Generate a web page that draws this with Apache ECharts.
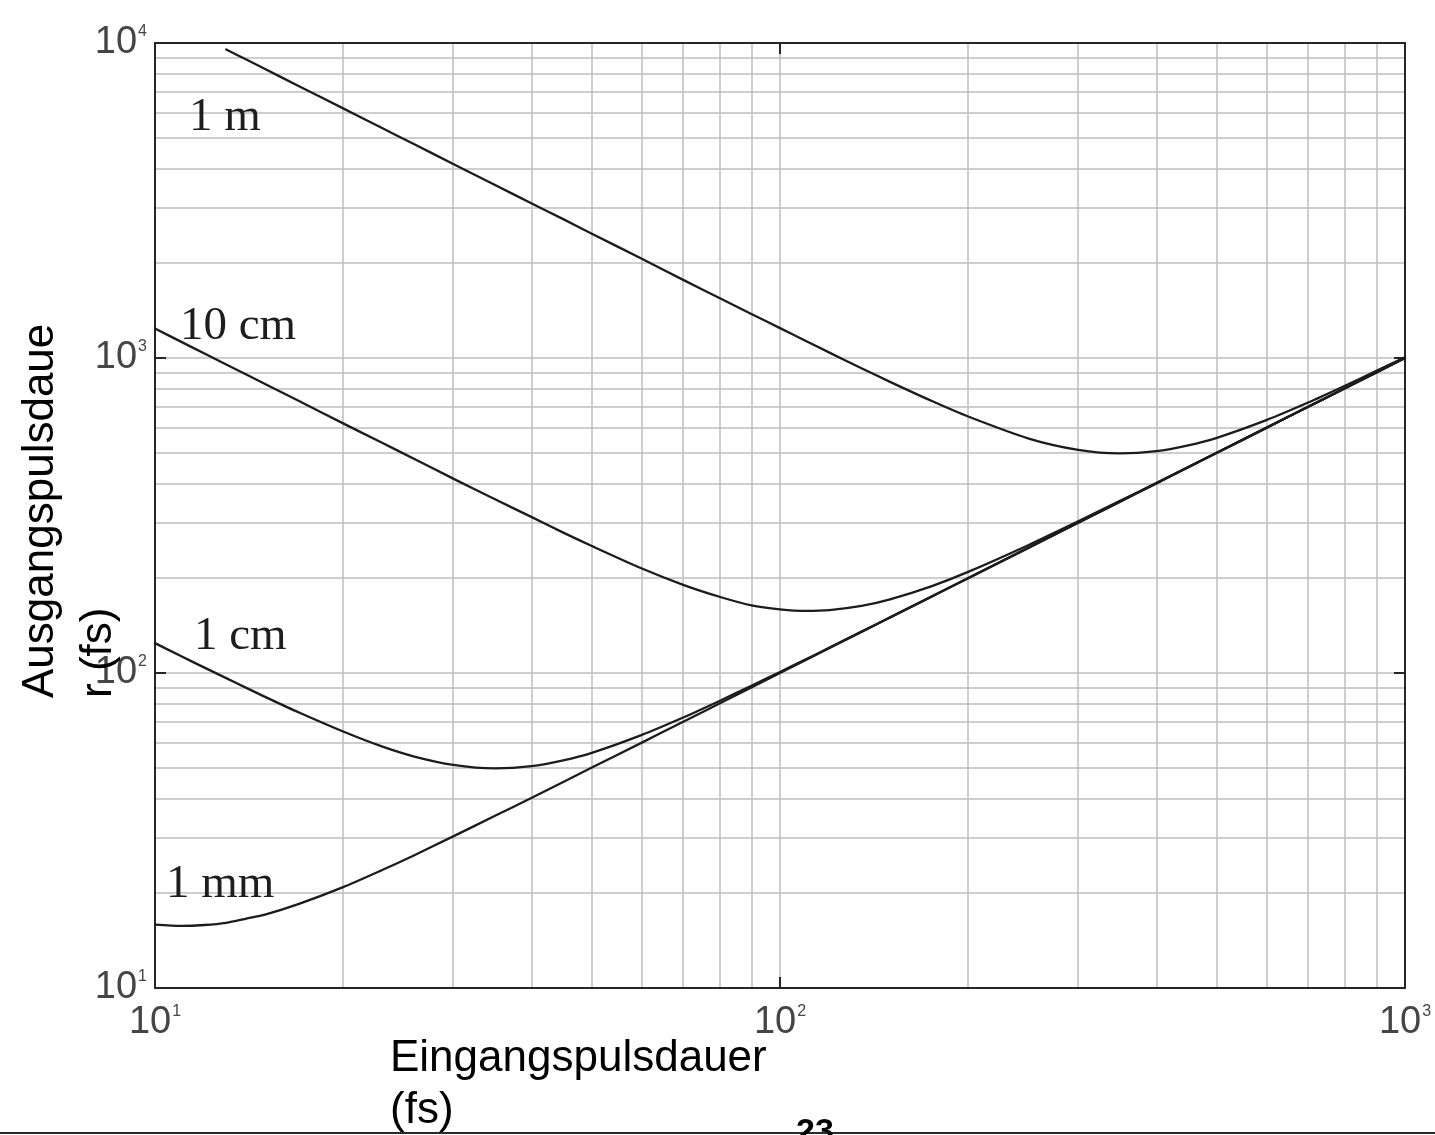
<!DOCTYPE html>
<html>
<head>
<meta charset="utf-8">
<script src="https://cdn.jsdelivr.net/npm/echarts@6/dist/echarts.min.js"></script>
<style>
  html, body { margin: 0; padding: 0; background: #ffffff; }
  #chart { width: 1435px; height: 1135px; }
</style>
</head>
<body>
<div id="chart"></div>
<script>
// Input pulse duration (fs), shared by all curves
const pulseIn = [10, 11, 12, 13, 14, 15, 17, 20, 23, 26, 30, 35, 40, 45, 50, 60, 70, 80, 90,
  100, 110, 120, 135, 150, 175, 200, 250, 300, 350, 400, 450, 500, 600, 700, 800, 900, 1000];

// Output pulse duration (fs) after each propagation length
const out1m = [null, null, null, 9540, 8860, 8270, 7290, 6200, 5390, 4770, 4130, 3540, 3100, 2760, 2480,
  2070, 1770, 1550, 1380, 1244, 1133, 1040, 928, 840, 730, 652, 555, 511, 498, 506, 528, 558, 635, 722, 815, 910, 1005];
const out10cm = [1240, 1127, 1033, 954, 886, 827, 730, 620, 540, 478, 414, 356, 313, 279, 253,
  215, 190.5, 174.6, 164, 159.3, 157.5, 158.4, 163.3, 171.3, 188.8, 209.4, 255, 303, 352, 401, 451, 500.6, 600.4, 700.2, 800.2, 900.1, 1000.1];
const out1cm = [124.4, 113.2, 104.0, 96.3, 89.7, 84.0, 74.9, 65.2, 58.6, 54.3, 51.1, 49.8, 50.6, 52.8, 55.8,
  63.5, 72.2, 81.5, 91.1, 100.8, 110.6, 120.4, 135.3, 150.2, 175.1, 200.1, 250, 300, 350, 400, 450, 500, 600, 700, 800, 900, 1000];
const out1mm = [15.9, 15.75, 15.85, 16.1, 16.6, 17.1, 18.5, 20.9, 23.6, 26.4, 30.3, 35.2, 40.1, 45.1, 50.1,
  60, 70, 80, 90, 100, 110, 120, 135, 150, 175, 200, 250, 300, 350, 400, 450, 500, 600, 700, 800, 900, 1000];

const curveNames = ['1 m', '10 cm', '1 cm', '1 mm'];
const curveValues = [out1m, out10cm, out1cm, out1mm];

const xTitle = 'Eingangspulsdauer\n(fs)';
const yTitle = 'Ausgangspulsdaue\nr (fs)';
const pageNumber = '23';

function pairs(values) {
  const pts = [];
  pulseIn.forEach((x, i) => { if (values[i] != null) pts.push([x, values[i]]); });
  return pts;
}

const gridColor = '#bebebe';
const frameColor = '#262626';
const labelColor = '#454545';

function powerLabel(v) {
  return '{b|10}{s|' + Math.round(Math.log10(v)) + '}';
}
const powerRich = {
  b: { fontSize: 38, fontFamily: '"Liberation Sans", Arial, sans-serif', color: labelColor },
  s: { fontSize: 16, fontFamily: '"Liberation Sans", Arial, sans-serif', color: labelColor, padding: [0, 0, 22, 1] }
};

function logAxis(min, max, position, withLabels, labelMargin) {
  return {
    type: 'log',
    logBase: 10,
    min: min,
    max: max,
    position: position,
    axisLine: { show: true, lineStyle: { color: frameColor, width: 2 } },
    axisTick: { show: true, inside: true, length: 11, lineStyle: { color: frameColor, width: 2 } },
    axisLabel: withLabels
      ? { show: true, formatter: powerLabel, rich: powerRich, margin: labelMargin }
      : { show: false },
    splitLine: { show: withLabels, lineStyle: { color: gridColor, width: 1.5 } },
    minorTick: { show: false, splitNumber: 9 },
    minorSplitLine: { show: withLabels, lineStyle: { color: gridColor, width: 1.5 } }
  };
}

const chart = echarts.init(document.getElementById('chart'), null, { renderer: 'canvas' });

chart.setOption({
  backgroundColor: '#ffffff',
  animation: false,
  grid: { left: 155, top: 43, width: 1250, height: 945, outerBoundsMode: 'none' },
  xAxis: [
    logAxis(10, 1000, 'bottom', true, 16),
    logAxis(10, 1000, 'top', false, 0)
  ],
  yAxis: [
    logAxis(10, 10000, 'left', true, 8),
    logAxis(10, 10000, 'right', false, 0)
  ],
  series: curveValues.map((vals, i) => ({
    name: curveNames[i],
    type: 'line',
    xAxisIndex: 0,
    yAxisIndex: 0,
    data: pairs(vals),
    showSymbol: false,
    symbol: 'none',
    smooth: 0.25,
    lineStyle: { color: '#1c1c1c', width: 2.3, join: 'round', cap: 'round' },
    z: 5
  })),
  graphic: [
    { type: 'text', x: 189, y: 118, style: { text: curveNames[0], font: '47px "Liberation Serif", serif', fill: '#1e1e1e', align: 'left', verticalAlign: 'middle' }, z: 10 },
    { type: 'text', x: 180, y: 327, style: { text: curveNames[1], font: '47px "Liberation Serif", serif', fill: '#1e1e1e', align: 'left', verticalAlign: 'middle' }, z: 10 },
    { type: 'text', x: 194, y: 637, style: { text: curveNames[2], font: '47px "Liberation Serif", serif', fill: '#1e1e1e', align: 'left', verticalAlign: 'middle' }, z: 10 },
    { type: 'text', x: 166, y: 885, style: { text: curveNames[3], font: '47px "Liberation Serif", serif', fill: '#1e1e1e', align: 'left', verticalAlign: 'middle' }, z: 10 },
    { type: 'text', x: 390, y: 1033, style: { text: xTitle, font: '44px "Liberation Sans", Arial, sans-serif', lineHeight: 52, fill: '#000000', align: 'left', verticalAlign: 'top' }, z: 10 },
    { type: 'text', x: 12, y: 698, rotation: Math.PI / 2, style: { text: yTitle, font: '44px "Liberation Sans", Arial, sans-serif', lineHeight: 58, fill: '#000000', align: 'left', verticalAlign: 'top' }, z: 10 },
    { type: 'line', shape: { x1: 0, y1: 1133, x2: 1435, y2: 1133 }, style: { stroke: '#2a2a2a', lineWidth: 2 }, z: 9 },
    { type: 'text', x: 815, y: 1116, style: { text: pageNumber, font: 'bold 34px "Liberation Sans", Arial, sans-serif', fill: '#000000', align: 'center', verticalAlign: 'top' }, z: 10 }
  ]
});
</script>
</body>
</html>
